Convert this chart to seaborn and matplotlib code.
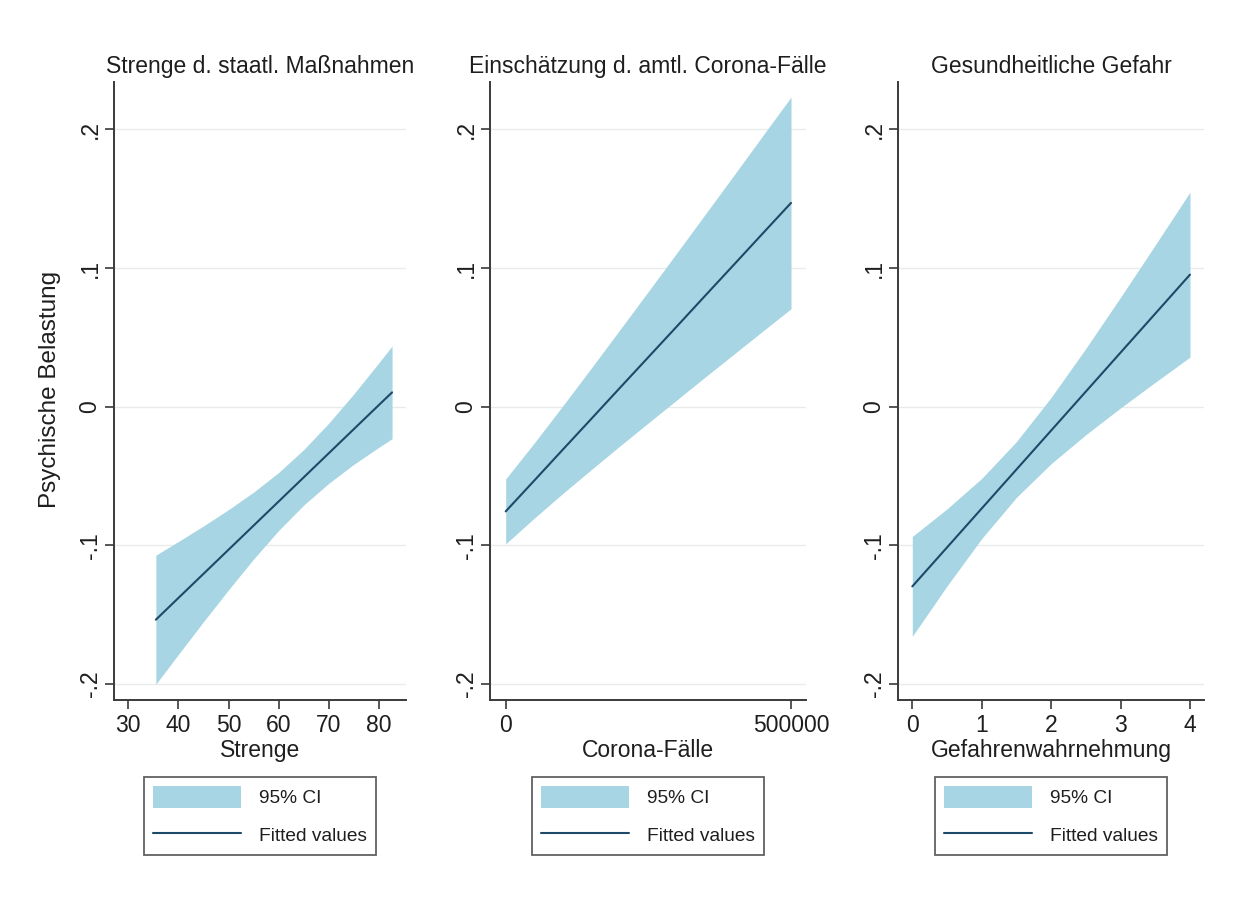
import numpy as np
import pandas as pd
import seaborn as sns
import matplotlib
matplotlib.use("Agg")
import matplotlib.pyplot as plt
from matplotlib.patches import Patch
from matplotlib.lines import Line2D

# ---------------- data ----------------
titles = ["Strenge d. staatl. Maßnahmen", "Einschätzung d. amtl. Corona-Fälle", "Gesundheitliche Gefahr"]
xlabels = ["Strenge", "Corona-Fälle", "Gefahrenwahrnehmung"]
ylabel = "Psychische Belastung"
legend_labels = ["95% CI", "Fitted values"]

strenge_x = [35.5, 40, 45, 50, 55, 60, 65, 70, 75, 80, 82.6]
strenge_fit = [-0.1536, -0.1379, -0.1205, -0.1031, -0.0857, -0.0683, -0.0509, -0.0335, -0.0161, 0.0013, 0.0103]
strenge_lo = [-0.2001, -0.1786, -0.1550, -0.1320, -0.1098, -0.0892, -0.0709, -0.0552, -0.0415, -0.0292, -0.0231]
strenge_hi = [-0.1071, -0.0972, -0.0860, -0.0742, -0.0616, -0.0474, -0.0309, -0.0118, 0.0093, 0.0318, 0.0437]

faelle_x = [0, 50000, 100000, 150000, 200000, 250000, 300000, 350000, 400000, 450000, 500000]
faelle_fit = [-0.0755, -0.0533, -0.0310, -0.0088, 0.0135, 0.0357, 0.0579, 0.0802, 0.1024, 0.1247, 0.1469]
faelle_lo = [-0.0989, -0.0804, -0.0626, -0.0454, -0.0284, -0.0117, 0.0049, 0.0215, 0.0379, 0.0543, 0.0706]
faelle_hi = [-0.0521, -0.0262, 0.0006, 0.0278, 0.0554, 0.0831, 0.1109, 0.1389, 0.1669, 0.1951, 0.2232]

gefahr_x = [0, 0.5, 1, 1.5, 2, 2.5, 3, 3.5, 4]
gefahr_fit = [-0.1296, -0.1015, -0.0734, -0.0453, -0.0172, 0.0109, 0.0390, 0.0671, 0.0952]
gefahr_lo = [-0.1656, -0.1293, -0.0951, -0.0654, -0.0411, -0.0202, -0.0009, 0.0176, 0.0357]
gefahr_hi = [-0.0936, -0.0737, -0.0517, -0.0252, 0.0067, 0.0420, 0.0789, 0.1166, 0.1547]

y_ticks = [-0.2, -0.1, 0.0, 0.1, 0.2]
y_ticklabels = ["-.2", "-.1", "0", ".1", ".2"]
x_ticks = [[30, 40, 50, 60, 70, 80], [0, 500000], [0, 1, 2, 3, 4]]
x_ticklabels = [["30", "40", "50", "60", "70", "80"], ["0", "500000"], ["0", "1", "2", "3", "4"]]

# ---------------- style ----------------
sns.set_theme(style="white")
plt.rcParams["font.family"] = ["Liberation Sans", "DejaVu Sans"]

W, H = 1246, 897
fig = plt.figure(figsize=(W / 100, H / 100), dpi=100)
fig.patch.set_facecolor("white")

CI_COLOR = "#a7d5e3"
LINE_COLOR = "#1d4a68"
AXIS_COLOR = "#3a3a3a"
GRID_COLOR = "#e9ebeb"
TEXT_COLOR = "#1e1e1e"

panels = [
    (strenge_x, strenge_fit, strenge_lo, strenge_hi),
    (faelle_x, faelle_fit, faelle_lo, faelle_hi),
    (gefahr_x, gefahr_fit, gefahr_lo, gefahr_hi),
]
# axes boxes in pixels: left, right, top, bottom
boxes = [(114, 406, 82, 700), (490, 806, 82, 700), (898, 1204, 82, 700)]
xlims = [(27.15, 85.38), (-27515, 526290), (-0.206, 4.202)]
ylim = (-0.2115, 0.2341)

LFS = 13.8
for i, ((xs, fit, lo, hi), (l, r, t, b)) in enumerate(zip(panels, boxes)):
    ax = fig.add_axes([l / W, 1 - b / H, (r - l) / W, (b - t) / H])
    ax.set_facecolor("white")
    df = pd.DataFrame({"x": xs, "fit": fit, "lo": lo, "hi": hi})
    for yv in y_ticks:
        ax.axhline(yv, color=GRID_COLOR, lw=1.0, zorder=0)
    ax.fill_between(df["x"], df["lo"], df["hi"], color=CI_COLOR, lw=0, zorder=1)
    sns.lineplot(data=df, x="x", y="fit", ax=ax, color=LINE_COLOR, lw=1.5, zorder=2)
    ax.set_xlim(*xlims[i])
    ax.set_ylim(*ylim)
    ax.set_yticks(y_ticks)
    ax.set_yticklabels(y_ticklabels, rotation=90, va="center")
    ax.set_xticks(x_ticks[i])
    ax.set_xticklabels(x_ticklabels[i])
    for s in ["top", "right"]:
        ax.spines[s].set_visible(False)
    for s in ["left", "bottom"]:
        ax.spines[s].set_color(AXIS_COLOR)
        ax.spines[s].set_linewidth(1.4)
    ax.tick_params(axis="both", direction="out", length=6.5, width=1.2, color=AXIS_COLOR,
                   labelsize=16.5, labelcolor=TEXT_COLOR, left=True, bottom=True)
    ax.tick_params(axis="y", pad=2.5)
    ax.tick_params(axis="x", pad=3.5)
    ax.set_title(titles[i], fontsize=16.5, color=TEXT_COLOR, pad=6.3)
    ax.set_xlabel(xlabels[i], fontsize=16.5, color=TEXT_COLOR)
    ax.xaxis.label.set_va("center")
    ax.xaxis.set_label_coords(0.5, -(750 - 700) / (b - t))
    if i == 0:
        ax.set_ylabel(ylabel, fontsize=17.5, color=TEXT_COLOR)
        ax.yaxis.label.set_va("center")
        ax.yaxis.set_label_coords((50 - l) / (r - l), 0.5 + 2 / (b - t))
    else:
        ax.set_ylabel("")
    handles = [Patch(facecolor=CI_COLOR, edgecolor="none"),
               Line2D([], [], color=LINE_COLOR, lw=1.5)]
    cx = (l + r) / 2
    leg = ax.legend(handles, legend_labels, loc="center",
                    bbox_to_anchor=(cx / W, 1 - 816 / H), bbox_transform=fig.transFigure,
                    frameon=True, fancybox=False, fontsize=LFS, handlelength=4.58,
                    handleheight=1.386, handletextpad=0.94, labelspacing=0.84,
                    borderpad=0.48, borderaxespad=0)
    leg.get_frame().set_edgecolor(AXIS_COLOR)
    leg.get_frame().set_linewidth(1.3)
    for txt in leg.get_texts():
        txt.set_color(TEXT_COLOR)

fig.savefig("out.png", dpi=100, facecolor="white")
